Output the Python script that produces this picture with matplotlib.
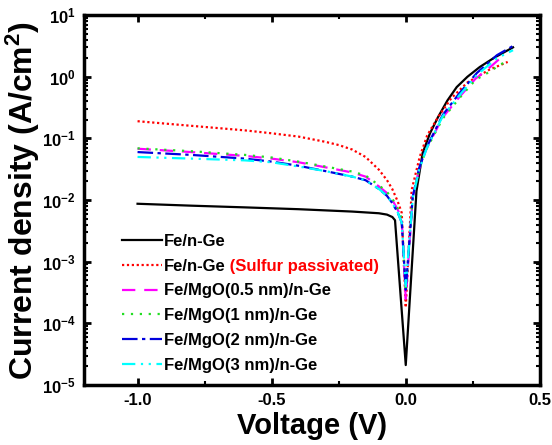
import numpy as np
import matplotlib
matplotlib.use("Agg")
import matplotlib.pyplot as plt
from matplotlib.ticker import LogLocator, FuncFormatter, MultipleLocator, NullFormatter

plt.rcParams['font.family'] = ['Liberation Sans', 'DejaVu Sans']
plt.rcParams['font.weight'] = 'bold'
plt.rcParams['mathtext.fontset'] = 'custom'
plt.rcParams['mathtext.rm'] = 'Liberation Sans:bold'
plt.rcParams['mathtext.bf'] = 'Liberation Sans:bold'
plt.rcParams['mathtext.default'] = 'bf'

# --- data (voltage in V, current density in A/cm^2) ---
v_fe = [-1.0, -0.8, -0.6, -0.4, -0.2, -0.1, -0.07, -0.05, -0.04, 0.0, 0.04, 0.063,
        0.09, 0.12, 0.155, 0.19, 0.23, 0.276, 0.33, 0.4]
j_fe = [8.7e-3, 8.1e-3, 7.6e-3, 7.1e-3, 6.5e-3, 6.1e-3, 5.8e-3, 5.3e-3, 4.7e-3,
        2.1e-5, 1.4e-2, 5.8e-2, 0.12, 0.22, 0.41, 0.68, 1.0, 1.44, 2.04, 3.0]

v_sulfur = [-1.0, -0.8, -0.6, -0.5, -0.4, -0.3, -0.25, -0.2, -0.15, -0.1, -0.07,
            -0.05, -0.03, -0.015, 0.0, 0.022, 0.052, 0.08, 0.12, 0.17, 0.23, 0.31, 0.38]
j_sulfur = [0.19, 0.16, 0.135, 0.121, 0.107, 0.088, 0.078, 0.066, 0.050, 0.031,
            0.021, 0.015, 9.5e-3, 6.2e-3, 1.8e-4, 0.0145, 0.050, 0.112, 0.22, 0.45,
            0.81, 1.29, 1.74]

v_mgo05 = [-1.0, -0.8, -0.6, -0.5, -0.4, -0.3, -0.2, -0.15, -0.1, -0.07, -0.05,
           -0.03, -0.015, 0.0, 0.026, 0.05, 0.078, 0.138, 0.2, 0.26, 0.3, 0.36]
j_mgo05 = [0.068, 0.060, 0.052, 0.047, 0.041, 0.034, 0.028, 0.024, 0.0166, 0.013,
           0.010, 7.0e-3, 4.8e-3, 2.5e-4, 0.0112, 0.032, 0.069, 0.22, 0.47, 0.93,
           1.26, 2.14]

v_mgo1 = [-1.0, -0.8, -0.6, -0.5, -0.4, -0.3, -0.2, -0.15, -0.1, -0.07, -0.05,
          -0.03, -0.015, 0.0, 0.026, 0.05, 0.078, 0.138, 0.2, 0.26, 0.3, 0.38]
j_mgo1 = [0.069, 0.062, 0.054, 0.049, 0.042, 0.035, 0.029, 0.025, 0.0174, 0.0135,
          0.0105, 7.3e-3, 5.0e-3, 3.2e-4, 0.0112, 0.032, 0.068, 0.21, 0.45, 0.89,
          1.12, 1.86]

v_mgo2 = [-1.0, -0.8, -0.6, -0.5, -0.4, -0.3, -0.2, -0.15, -0.1, -0.07, -0.05,
          -0.03, -0.015, 0.0, 0.026, 0.05, 0.078, 0.138, 0.2, 0.265, 0.34, 0.4]
j_mgo2 = [0.060, 0.054, 0.047, 0.042, 0.036, 0.0295, 0.024, 0.021, 0.0151, 0.0117,
          8.9e-3, 6.3e-3, 4.3e-3, 3.5e-4, 0.0112, 0.033, 0.072, 0.24, 0.54, 1.15,
          2.24, 3.16]

v_mgo3 = [-1.0, -0.8, -0.6, -0.5, -0.4, -0.3, -0.2, -0.15, -0.1, -0.07, -0.05,
          -0.03, -0.015, 0.0, 0.026, 0.05, 0.078, 0.138, 0.2, 0.265, 0.34, 0.4]
j_mgo3 = [0.050, 0.047, 0.044, 0.041, 0.035, 0.0295, 0.024, 0.021, 0.0151, 0.0117,
          8.9e-3, 6.3e-3, 4.3e-3, 4.0e-4, 0.0107, 0.031, 0.069, 0.23, 0.50, 1.07,
          2.0, 2.7]

labels = ["Fe/n-Ge", "Fe/n-Ge", "Fe/MgO(0.5 nm)/n-Ge", "Fe/MgO(1 nm)/n-Ge",
          "Fe/MgO(2 nm)/n-Ge", "Fe/MgO(3 nm)/n-Ge"]

fig = plt.figure(figsize=(5.52, 4.45), dpi=100)
ax = fig.add_axes([0.152, 0.135, 0.826, 0.831])

lw = 1.6
ax.plot(v_fe, j_fe, color='black', lw=lw, ls='-', label=labels[0])
ax.plot(v_sulfur, j_sulfur, color='red', lw=lw, ls=(0, (1, 1.2)), label=labels[1])
ax.plot(v_mgo05, j_mgo05, color='magenta', lw=lw, ls=(0, (6, 4)), label=labels[2])
ax.plot(v_mgo1, j_mgo1, color='#22dd22', lw=lw, ls=(0, (1, 3)), label=labels[3])
ax.plot(v_mgo2, j_mgo2, color='#0000dd', lw=lw, ls=(0, (7, 2, 1.5, 2)), label=labels[4])
ax.plot(v_mgo3, j_mgo3, color='cyan', lw=lw, ls=(0, (6, 2.5, 1, 2.5, 1, 2.5)), label=labels[5])

ax.set_yscale('log')
ax.set_xlim(-1.2, 0.5)
ax.set_ylim(1e-5, 10)
ax.xaxis.set_major_locator(MultipleLocator(0.5))
ax.xaxis.set_minor_locator(MultipleLocator(0.25))
ax.xaxis.set_major_formatter(FuncFormatter(lambda x, p: f"{x:.1f}"))
ax.yaxis.set_major_locator(LogLocator(base=10, numticks=10))
ax.yaxis.set_minor_locator(LogLocator(base=10, subs=np.arange(2, 10), numticks=20))
ax.yaxis.set_minor_formatter(NullFormatter())
ax.yaxis.set_major_formatter(FuncFormatter(lambda y, p: r"$\mathbf{10^{%d}}$" % round(np.log10(y))))

ax.tick_params(which='both', direction='in', top=True, right=True, width=2, labelsize=12)
ax.tick_params(which='major', length=5, pad=6)
ax.tick_params(which='minor', length=3, width=1.5)
for s in ax.spines.values():
    s.set_linewidth(2.5)

ax.set_xlabel("Voltage (V)", fontsize=21, fontweight='bold', labelpad=3)
ax.set_ylabel(r"Current density (A/cm$^\mathbf{2}$)", fontsize=23, fontweight='bold', labelpad=0)

leg = ax.legend(loc='lower left', bbox_to_anchor=(0.05, -0.008), frameon=False,
                prop={'size': 12, 'weight': 'bold'}, handlelength=2.4,
                handletextpad=0.12, labelspacing=0.59)

# red suffix placed right after the second legend entry
fig.canvas.draw()
bb = leg.get_texts()[1].get_window_extent().transformed(fig.transFigure.inverted())
fig.text(bb.x1, bb.y0, " (Sulfur passivated)", va='bottom', ha='left', color='red',
         fontsize=12, fontweight='bold')

plt.savefig("out.png", dpi=100)
